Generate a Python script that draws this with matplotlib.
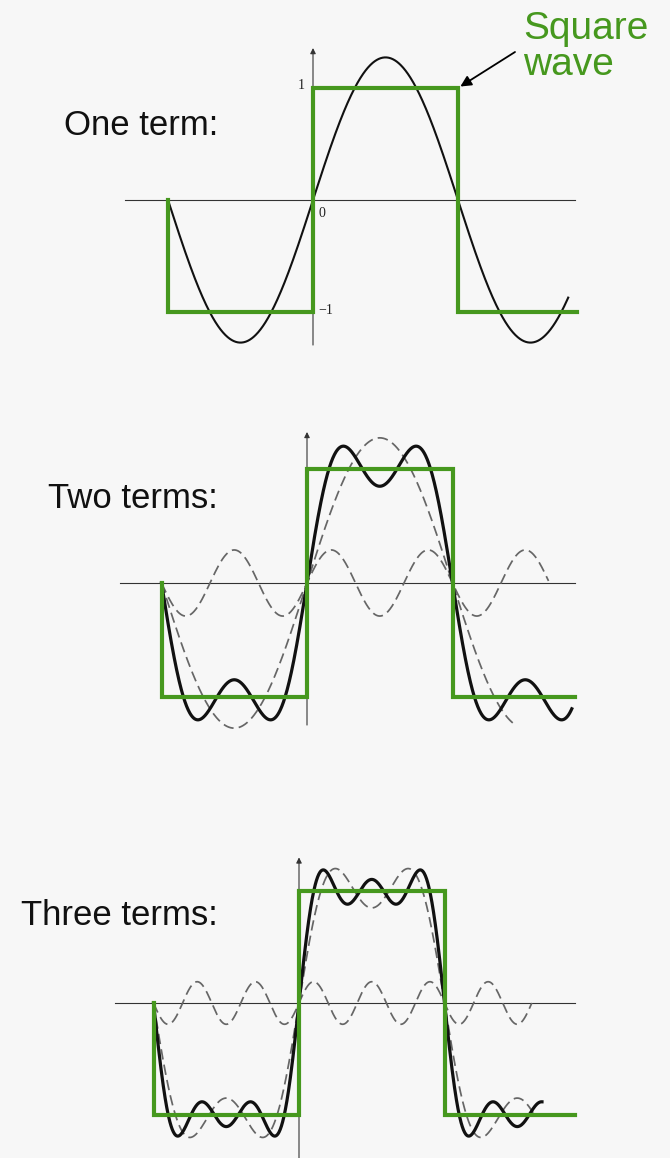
import numpy as np
import matplotlib.pyplot as plt

W, H, DPI = 670, 1158, 100
BG = '#f7f7f7'
GREEN = '#46981e'

# 方波的傅里叶级数: 奇次谐波, 系数 4/(n*pi)
harmonics = [1, 3, 5]
coefs = [4 / np.pi, 4 / (3 * np.pi), 4 / (5 * np.pi)]
# 图中单独画出的(虚线)谐波振幅
lone_amps = [1.27, 0.29, 0.19]

# 方波拐点 (x 以 pi 为单位)
square_x = [-1, -1, 0, 0, 1, 1]
square_y = [0, -1, -1, 1, 1, -1, -1]

panel_titles = ['One term:', 'Two terms:', 'Three terms:']
panel_terms = [1, 2, 3]
# 各曲线终点 (以 pi 为单位)
sum_end = [1.76, 1.82, 1.67]
prev_end = [None, 1.42, 1.61]
lone_end = [None, 1.66, 1.60]
square_end = [1.82, 1.84, 1.90]
# 坐标轴范围
haxis_span = [(-1.297, 1.807), (-1.285, 1.842), (-1.265, 1.897)]
vaxis_span = [(-1.295, 1.357), (-1.246, 1.325), (-1.384, 1.30)]

# 版面: 原点像素位置, x 方向每 pi 像素数, y 方向每单位像素数
origins = [(313, 200), (307, 583), (299, 1003)]
x_scale = [145, 145.5, 145.5]
y_scale = [112, 114, 112]
title_baseline = [135, 508, 925]


def partial_sum(x, n_terms):
    return sum(c * np.sin(h * x) for h, c in zip(harmonics[:n_terms], coefs[:n_terms]))


def make_panel(fig, origin, sx, sy):
    """整张图大小的透明坐标系, 原点和比例按像素摆放"""
    ox, oy = origin
    ax = fig.add_axes([0, 0, 1, 1])
    ax.set_xlim(-ox / sx * np.pi, (W - ox) / sx * np.pi)
    ax.set_ylim(-(H - oy) / sy, oy / sy)
    ax.set_facecolor('none')
    ax.axis('off')
    return ax


def draw_panel(ax, i):
    n = panel_terms[i]
    thick = 1.5 if n == 1 else 2.3

    # 坐标轴
    x0, x1 = haxis_span[i]
    ax.plot([x0 * np.pi, x1 * np.pi], [0, 0], color='#333333', lw=0.8, zorder=1)
    y0, y1 = vaxis_span[i]
    ax.annotate('', xy=(0, y1), xytext=(0, y0),
                arrowprops=dict(arrowstyle='-|>', color='#333333', lw=0.8,
                                mutation_scale=8, shrinkA=0, shrinkB=0), zorder=1)

    # 虚线: 前一项部分和 与 新加入的谐波
    dash = dict(color='#666666', lw=1.25, ls=(0, (6, 3)), zorder=2)
    if n > 1:
        xp = np.linspace(-np.pi, prev_end[i] * np.pi, 800)
        ax.plot(xp, partial_sum(xp, n - 1), **dash)
        xl = np.linspace(-np.pi, lone_end[i] * np.pi, 800)
        ax.plot(xl, lone_amps[n - 1] * np.sin(harmonics[n - 1] * xl), **dash)

    # 实线: 部分和
    xs = np.linspace(-np.pi, sum_end[i] * np.pi, 1000)
    ax.plot(xs, partial_sum(xs, n), color='#111111', lw=thick, zorder=3)

    # 方波
    sx = [v * np.pi for v in square_x] + [square_end[i] * np.pi]
    ax.plot(sx, square_y, color=GREEN, lw=3.0, zorder=4, solid_joinstyle='miter')


def main():
    fig = plt.figure(figsize=(W / DPI, H / DPI), dpi=DPI, facecolor=BG)

    axes = []
    for i in range(3):
        ax = make_panel(fig, origins[i], x_scale[i], y_scale[i])
        draw_panel(ax, i)
        axes.append(ax)
        fig.text(218 / W, 1 - title_baseline[i] / H, panel_titles[i], ha='right', va='baseline',
                 fontsize=25, family='Liberation Sans', color='#111111')

    # 第一幅的刻度标注
    ax1 = axes[0]
    tick_font = dict(family='Liberation Serif', fontsize=10, color='#222222')
    ax1.annotate('1', xy=(0, 1), xytext=(-6, 2), textcoords='offset points',
                 ha='right', va='center', **tick_font)
    ax1.annotate('0', xy=(0, 0), xytext=(4, -10), textcoords='offset points',
                 ha='left', va='center', **tick_font)
    ax1.annotate('\u22121', xy=(0, -1), xytext=(4, 1), textcoords='offset points',
                 ha='left', va='center', **tick_font)

    # Square wave 标签和箭头
    ax1.annotate('', xy=(np.pi, 1), xytext=(515 / W, 1 - 52 / H), textcoords='figure fraction',
                 arrowprops=dict(arrowstyle='-|>', color='black', lw=1.3,
                                 mutation_scale=16, shrinkA=0, shrinkB=2))
    fig.text(523 / W, 1 - 39 / H, 'Square', ha='left', va='baseline',
             fontsize=28, family='Liberation Sans', color=GREEN)
    fig.text(523 / W, 1 - 75 / H, 'wave', ha='left', va='baseline',
             fontsize=28, family='Liberation Sans', color=GREEN)

    fig.savefig('out.png', dpi=DPI, facecolor=BG)
    plt.close(fig)


if __name__ == "__main__":
    main()
